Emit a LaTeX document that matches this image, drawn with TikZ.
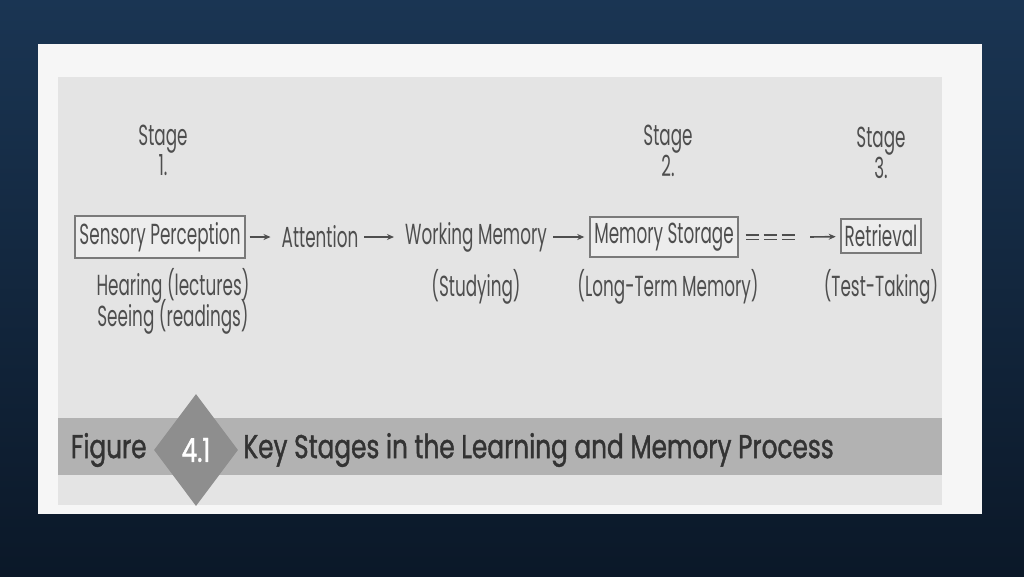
\documentclass[tikz,border=0pt]{standalone}
\usepackage{fontspec}
\usepackage{xcolor}
\newfontfamily\diagfont[FakeStretch=0.58]{Poppins}
\newfontfamily\capfont[FakeStretch=0.75,FakeBold=1.2]{Poppins}
\usetikzlibrary{
  arrows.meta,
  positioning,
  shapes.geometric
}

\definecolor{slidebg}{HTML}{0B1828}
\definecolor{slidetop}{HTML}{1A3553}
\definecolor{paperwhite}{HTML}{F6F6F6}
\definecolor{panelgray}{HTML}{E4E4E4}
\definecolor{bandgray}{HTML}{B2B2B2}
\definecolor{diagray}{HTML}{8E8E8E}
\definecolor{boxgray}{HTML}{7A7A7A}
\definecolor{boxfill}{HTML}{EDEDED}
\definecolor{inkgray}{HTML}{4E4E4E}
\definecolor{capink}{HTML}{333333}

\begin{document}
\begin{tikzpicture}[x=1pt, y=-1pt, >={Stealth[length=7pt,width=6pt]},
  every node/.style={font=\diagfont\fontsize{29}{27}\selectfont, text=inkgray},
  stagebox/.style={draw=boxgray, line width=2pt, fill=boxfill, inner xsep=4pt, inner ysep=6pt},
  plain/.style={inner sep=2pt},
  caption/.style={font=\capfont\fontsize{33}{36}\selectfont, text=capink, inner sep=0pt},
  link/.style={->, line width=1.6pt, draw=inkgray, shorten <=4pt, shorten >=9pt}]
  % Slide background and the scanned page on it
  \useasboundingbox (0,0) rectangle (1024,576);
  \shade [top color=slidetop, bottom color=slidebg] (0,0) rectangle (1024,576);
  \fill [paperwhite] (38,44) rectangle (982,514);
  \fill [panelgray] (58,77) rectangle (942,505);
  \fill [bandgray] (58,418) rectangle (942,475);

  % The five steps of the process, left to right.
  \node [stagebox] (sensory) at (160,237) {Sensory Perception};
  \node [plain] (attention) at (320,237) {Attention};
  \node [plain] (working) at (476,237) {Working Memory};
  \node [stagebox] (storage) at (664,237) {Memory Storage};
  \node [stagebox] (retrieval) at (881,236) {Retrieval};

  % Stage numbers above the boxed steps.
  \node [align=center, above=36pt of sensory, xshift=3pt] (stageone) {Stage\\1.};
  \node [align=center, above=36pt of storage, xshift=4pt] (stagetwo) {Stage\\2.};
  \node [align=center, above=36pt of retrieval] (stagethree) {Stage\\3.};

  % What each step stands for, below it.
  \node [align=center, below=6pt of sensory, xshift=13pt] (senses) {Hearing (lectures)\\[-5pt]Seeing (readings)};
  \node [below=12pt of working] (studying) {(Studying)};
  \node [below=8pt of storage, xshift=4pt] (longterm) {(Long-Term Memory)};
  \node [below=12pt of retrieval] (testing) {(Test-Taking)};

  % Arrows between the steps.
  \draw [link] (sensory) -- (attention);
  \draw [link] (attention) -- (working);
  \draw [link, shorten >=5pt] (working) -- (storage);

  % The long wait between storage and retrieval.
  \coordinate (waitend) at (798,237);
  \coordinate (waitgo) at (810,237);
  \draw [double=panelgray, draw=inkgray, line width=1.2pt, double distance=3pt,
    dash pattern=on 13pt off 5pt, shorten <=7pt] (storage) -- (waitend);
  \draw [link, shorten <=0pt, shorten >=4pt] (waitgo) -- (retrieval);

  % Figure caption band.
  \node [diamond, fill=diagray, minimum width=84pt, minimum height=112pt,
    inner sep=0pt, caption, text=white] (fignum) at (196,450) {4.1};
  \node [caption, anchor=east, left=7pt of fignum] (figword) {Figure};
  \node [caption, anchor=west, right=5pt of fignum] (figtitle) {Key Stages in the Learning and Memory Process};
\end{tikzpicture}
\end{document}
